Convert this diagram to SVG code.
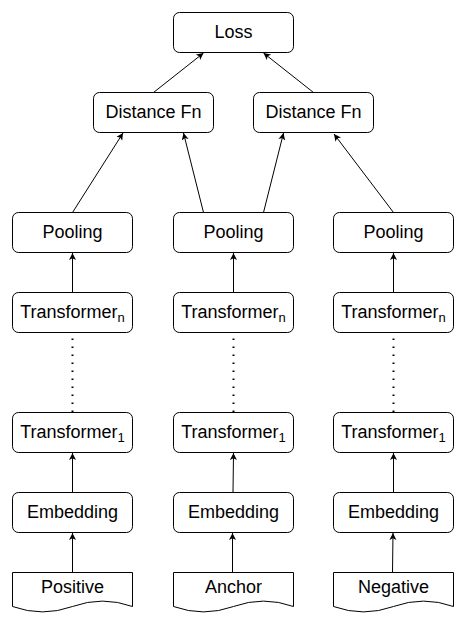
<svg xmlns="http://www.w3.org/2000/svg" width="462" height="622" viewBox="0 0 462 622">
<style>
.box{fill:#fff;stroke:#000;stroke-width:1}
.lbl{font-family:"Liberation Sans",Arial,Helvetica,sans-serif;font-size:18px;fill:#000;text-anchor:middle}
.sub{font-size:13px}
.edge{fill:none;stroke:#000;stroke-width:1}
.dots{fill:none;stroke:#000;stroke-width:2;stroke-dasharray:1.6 6.4}
</style>
<defs>
<marker id="arr" markerUnits="userSpaceOnUse" markerWidth="9" markerHeight="9" refX="7" refY="3.5" orient="auto">
<path d="M7,3.5 L0,0 L1.8,3.5 L0,7 Z" fill="#000"/>
</marker>
</defs>
<rect width="462" height="622" fill="#fff"/>
<g id="connectors">
<line class="edge" x1="153.5" y1="92.5" x2="203.5" y2="53" marker-end="url(#arr)"/>
<line class="edge" x1="313.5" y1="92.5" x2="263.5" y2="53" marker-end="url(#arr)"/>
<line class="edge" x1="72.5" y1="212.5" x2="123" y2="133" marker-end="url(#arr)"/>
<line class="edge" x1="203.5" y1="212.5" x2="183.5" y2="133" marker-end="url(#arr)"/>
<line class="edge" x1="263.5" y1="212.5" x2="283.5" y2="133" marker-end="url(#arr)"/>
<line class="edge" x1="393.5" y1="212.5" x2="334" y2="134" marker-end="url(#arr)"/>
<line class="edge" x1="72.5" y1="292.5" x2="72.5" y2="253" marker-end="url(#arr)"/>
<line class="edge" x1="233.5" y1="292.5" x2="233.5" y2="253" marker-end="url(#arr)"/>
<line class="edge" x1="393.5" y1="292.5" x2="393.5" y2="253" marker-end="url(#arr)"/>
<line class="dots" x1="72.5" y1="338.5" x2="72.5" y2="412"/>
<line class="dots" x1="233.5" y1="338.5" x2="233.5" y2="412"/>
<line class="dots" x1="393.5" y1="338.5" x2="393.5" y2="412"/>
<line class="edge" x1="72.5" y1="492.5" x2="72.5" y2="453" marker-end="url(#arr)"/>
<line class="edge" x1="233" y1="492.5" x2="233.5" y2="453" marker-end="url(#arr)"/>
<line class="edge" x1="393.5" y1="492.5" x2="393.5" y2="453" marker-end="url(#arr)"/>
<line class="edge" x1="72.5" y1="572.5" x2="72.5" y2="533" marker-end="url(#arr)"/>
<line class="edge" x1="232.5" y1="572.5" x2="232.5" y2="533" marker-end="url(#arr)"/>
<line class="edge" x1="392.5" y1="572.5" x2="393" y2="533" marker-end="url(#arr)"/>
</g>
<g id="loss"><rect class="box" x="173.5" y="12.5" width="120" height="40" rx="6"/><text class="lbl" x="233.5" y="38">Loss</text></g>
<g id="distance-left"><rect class="box" x="93.5" y="92.5" width="120" height="40" rx="6"/><text class="lbl" x="153.5" y="118">Distance Fn</text></g>
<g id="distance-right"><rect class="box" x="253.5" y="92.5" width="120" height="40" rx="6"/><text class="lbl" x="313.5" y="118">Distance Fn</text></g>
<g id="pooling-pos"><rect class="box" x="12.5" y="212.5" width="120" height="40" rx="6"/><text class="lbl" x="72.5" y="238">Pooling</text></g>
<g id="pooling-anc"><rect class="box" x="173.5" y="212.5" width="120" height="40" rx="6"/><text class="lbl" x="233.5" y="238">Pooling</text></g>
<g id="pooling-neg"><rect class="box" x="333.5" y="212.5" width="120" height="40" rx="6"/><text class="lbl" x="393.5" y="238">Pooling</text></g>
<g id="transn-pos"><rect class="box" x="12.5" y="292.5" width="120" height="40" rx="6"/><text class="lbl" x="72.5" y="318">Transformer<tspan class="sub" dy="4">n</tspan></text></g>
<g id="transn-anc"><rect class="box" x="173.5" y="292.5" width="120" height="40" rx="6"/><text class="lbl" x="233.5" y="318">Transformer<tspan class="sub" dy="4">n</tspan></text></g>
<g id="transn-neg"><rect class="box" x="333.5" y="292.5" width="120" height="40" rx="6"/><text class="lbl" x="393.5" y="318">Transformer<tspan class="sub" dy="4">n</tspan></text></g>
<g id="trans1-pos"><rect class="box" x="12.5" y="412.5" width="120" height="40" rx="6"/><text class="lbl" x="72.5" y="438">Transformer<tspan class="sub" dy="4">1</tspan></text></g>
<g id="trans1-anc"><rect class="box" x="173.5" y="412.5" width="120" height="40" rx="6"/><text class="lbl" x="233.5" y="438">Transformer<tspan class="sub" dy="4">1</tspan></text></g>
<g id="trans1-neg"><rect class="box" x="333.5" y="412.5" width="120" height="40" rx="6"/><text class="lbl" x="393.5" y="438">Transformer<tspan class="sub" dy="4">1</tspan></text></g>
<g id="embed-pos"><rect class="box" x="12.5" y="492.5" width="120" height="40" rx="6"/><text class="lbl" x="72.5" y="518">Embedding</text></g>
<g id="embed-anc"><rect class="box" x="173.5" y="492.5" width="120" height="40" rx="6"/><text class="lbl" x="233.5" y="518">Embedding</text></g>
<g id="embed-neg"><rect class="box" x="333.5" y="492.5" width="120" height="40" rx="6"/><text class="lbl" x="393.5" y="518">Embedding</text></g>
<g id="positive"><path class="box" d="M12.5,572.5 H132.5 V606.5 Q102.5,595.7 72.5,606.5 Q42.5,617.3 12.5,606.5 Z"/><text class="lbl" x="72.5" y="592.5">Positive</text></g>
<g id="anchor"><path class="box" d="M173.5,572.5 H293.5 V606.5 Q263.5,595.7 233.5,606.5 Q203.5,617.3 173.5,606.5 Z"/><text class="lbl" x="233.5" y="592.5">Anchor</text></g>
<g id="negative"><path class="box" d="M333.5,572.5 H453.5 V606.5 Q423.5,595.7 393.5,606.5 Q363.5,617.3 333.5,606.5 Z"/><text class="lbl" x="393.5" y="592.5">Negative</text></g>
</svg>
